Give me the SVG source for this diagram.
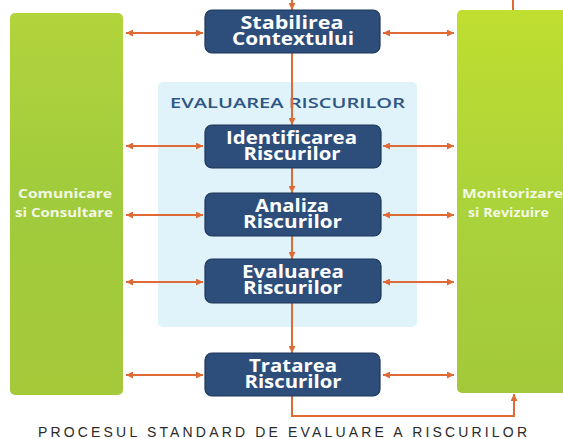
<svg xmlns="http://www.w3.org/2000/svg" width="563" height="439" viewBox="0 0 563 439">
<defs>
<style>
.box{fill:#2d4e7b;stroke:#1d3659;stroke-width:1.2}
.bt{font-family:"Open Sans","DejaVu Sans",sans-serif;font-weight:700;font-size:17px;fill:#ffffff;text-anchor:middle}
.gt{font-family:"Open Sans","DejaVu Sans",sans-serif;font-weight:700;font-size:12.5px;fill:#f3f8e4;text-anchor:middle}
.c{stroke:#e06a35;stroke-width:2;fill:none}
</style>
<marker id="ah" viewBox="0 0 10 10" refX="10" refY="5" markerWidth="9" markerHeight="7" markerUnits="userSpaceOnUse" orient="auto-start-reverse">
<path d="M0,0 L10,5 L0,10 Z" fill="#e06a35"/>
</marker>
<linearGradient id="gl" x1="0" y1="0" x2="0" y2="1">
<stop offset="0" stop-color="#b2d43c"/>
<stop offset="0.5" stop-color="#a0cb3c"/>
<stop offset="1" stop-color="#a6c93a"/>
</linearGradient>
<linearGradient id="gr" x1="0" y1="0" x2="0" y2="1">
<stop offset="0" stop-color="#c0de30"/>
<stop offset="0.5" stop-color="#abd33a"/>
<stop offset="1" stop-color="#a3c93a"/>
</linearGradient>
</defs>
<rect width="563" height="439" fill="#ffffff"/>
<g id="panel">
<rect x="158" y="82" width="259" height="245" rx="5" fill="#e0f3fb"/>
<text x="287.5" y="108" font-family="Open Sans,DejaVu Sans,sans-serif" font-weight="600" font-size="13.5" fill="#2e5584" text-anchor="middle" textLength="235" lengthAdjust="spacingAndGlyphs">EVALUAREA RISCURILOR</text>
</g>
<g id="comunicare">
<rect x="10" y="13" width="113" height="382" rx="5" fill="url(#gl)"/>
<text class="gt"><tspan x="65" y="198" textLength="94" lengthAdjust="spacingAndGlyphs">Comunicare</tspan><tspan x="64" y="217" textLength="98" lengthAdjust="spacingAndGlyphs">si Consultare</tspan></text>
</g>
<g id="monitorizare">
<rect x="457" y="10" width="112" height="383" rx="5" fill="url(#gr)"/>
<text class="gt"><tspan x="512.5" y="198" textLength="101" lengthAdjust="spacingAndGlyphs">Monitorizare</tspan><tspan x="508.5" y="217" textLength="81" lengthAdjust="spacingAndGlyphs">si Revizuire</tspan></text>
</g>
<g id="connectors">
<line class="c" x1="292" y1="0" x2="292" y2="10" marker-end="url(#ah)"/>
<line class="c" x1="513" y1="0" x2="513" y2="10"/>
<line class="c" x1="292" y1="53" x2="292" y2="125" marker-end="url(#ah)"/>
<line class="c" x1="292" y1="168" x2="292" y2="193" marker-end="url(#ah)"/>
<line class="c" x1="292" y1="236" x2="292" y2="259" marker-end="url(#ah)"/>
<line class="c" x1="292" y1="303" x2="292" y2="353" marker-end="url(#ah)"/>
<polyline class="c" points="292,396 292,416 514,416 514,394" marker-end="url(#ah)"/>
<line class="c" x1="126" y1="33" x2="203" y2="33" marker-start="url(#ah)" marker-end="url(#ah)"/>
<line class="c" x1="383" y1="33" x2="454" y2="33" marker-start="url(#ah)" marker-end="url(#ah)"/>
<line class="c" x1="126" y1="146" x2="203" y2="146" marker-start="url(#ah)" marker-end="url(#ah)"/>
<line class="c" x1="383" y1="146" x2="454" y2="146" marker-start="url(#ah)" marker-end="url(#ah)"/>
<line class="c" x1="126" y1="215" x2="203" y2="215" marker-start="url(#ah)" marker-end="url(#ah)"/>
<line class="c" x1="383" y1="215" x2="454" y2="215" marker-start="url(#ah)" marker-end="url(#ah)"/>
<line class="c" x1="126" y1="282" x2="203" y2="282" marker-start="url(#ah)" marker-end="url(#ah)"/>
<line class="c" x1="383" y1="282" x2="454" y2="282" marker-start="url(#ah)" marker-end="url(#ah)"/>
<line class="c" x1="126" y1="375" x2="203" y2="375" marker-start="url(#ah)" marker-end="url(#ah)"/>
<line class="c" x1="383" y1="375" x2="454" y2="375" marker-start="url(#ah)" marker-end="url(#ah)"/>
</g>
<g id="stabilirea">
<rect class="box" x="205" y="10" width="175" height="43" rx="7"/>
<text class="bt"><tspan x="292" y="28.5" textLength="103" lengthAdjust="spacingAndGlyphs">Stabilirea</tspan><tspan x="293" y="45" textLength="122" lengthAdjust="spacingAndGlyphs">Contextului</tspan></text>
</g>
<g id="identificarea">
<rect class="box" x="205" y="125" width="176" height="43" rx="7"/>
<text class="bt"><tspan x="291.5" y="143.5" textLength="131" lengthAdjust="spacingAndGlyphs">Identificarea</tspan><tspan x="292" y="160" textLength="97" lengthAdjust="spacingAndGlyphs">Riscurilor</tspan></text>
</g>
<g id="analiza">
<rect class="box" x="205" y="193" width="176" height="43" rx="7"/>
<text class="bt"><tspan x="292" y="211.5" textLength="74" lengthAdjust="spacingAndGlyphs">Analiza</tspan><tspan x="292.5" y="228" textLength="99" lengthAdjust="spacingAndGlyphs">Riscurilor</tspan></text>
</g>
<g id="evaluarea">
<rect class="box" x="205" y="259" width="176" height="44" rx="7"/>
<text class="bt"><tspan x="293" y="277.5" textLength="102" lengthAdjust="spacingAndGlyphs">Evaluarea</tspan><tspan x="292.5" y="294" textLength="99" lengthAdjust="spacingAndGlyphs">Riscurilor</tspan></text>
</g>
<g id="tratarea">
<rect class="box" x="205" y="353" width="175" height="43" rx="7"/>
<text class="bt"><tspan x="293" y="371.5" textLength="88" lengthAdjust="spacingAndGlyphs">Tratarea</tspan><tspan x="293" y="388" textLength="97" lengthAdjust="spacingAndGlyphs">Riscurilor</tspan></text>
</g>
<text x="282.5" y="437" font-family="Liberation Sans,Arial,sans-serif" font-size="14" fill="#2a2a2a" text-anchor="middle" textLength="489" lengthAdjust="spacing">PROCESUL STANDARD DE EVALUARE A RISCURILOR</text>
</svg>
